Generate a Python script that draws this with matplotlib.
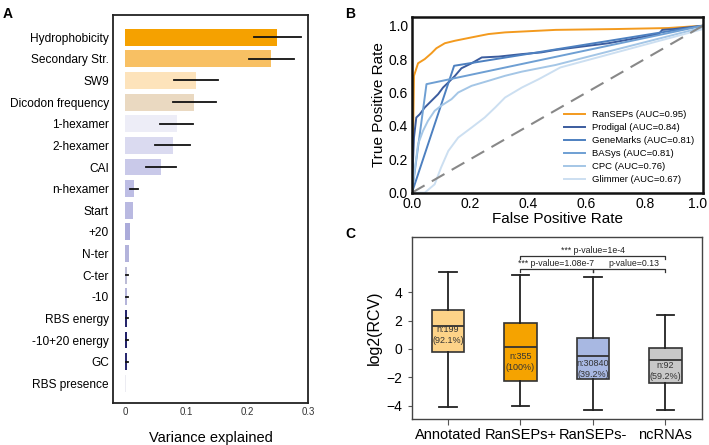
import matplotlib
matplotlib.use("Agg")
import matplotlib.pyplot as plt
import matplotlib.transforms as mtransforms
import numpy as np

plt.rcParams['font.family'] = ['Liberation Sans', 'DejaVu Sans']

# ---------------- Panel A data ----------------
features = ["Hydrophobicity", "Secondary Str.", "SW9", "Dicodon frequency",
            "1-hexamer", "2-hexamer", "CAI", "n-hexamer", "Start", "+20",
            "N-ter", "C-ter", "-10", "RBS energy", "-10+20 energy", "GC",
            "RBS presence"]
variance = [0.250, 0.240, 0.117, 0.114, 0.085, 0.078, 0.059, 0.015, 0.0125,
            0.0088, 0.006, 0.004, 0.0035, 0.003, 0.003, 0.003, 0.001]
variance_err = [0.038, 0.037, 0.036, 0.035, 0.027, 0.028, 0.025, 0.007, 0.0,
                0.0, 0.0, 0.0015, 0.0015, 0.002, 0.002, 0.002, 0.0]
bar_colors = ['#F5A100', '#F8C063', '#FDE3BB', '#EAD9C1', '#EDEDF7', '#DADAF0',
              '#C9C9E9', '#BDBDE4', '#B9B9E1', '#ABABDA', '#B3B3DB', '#BCBCD6',
              '#B5B5DA', '#25256B', '#23236A', '#2A2A70', '#ECECF2']
var_ticks = [0, 0.1, 0.2, 0.3]
var_ticklabels = ["0", "0.1", "0.2", "0.3"]

# ---------------- Panel B data ----------------
ransep_fpr = [0, 0.004, 0.007, 0.021, 0.044, 0.067, 0.084, 0.113, 0.148, 0.205,
              0.263, 0.32, 0.436, 0.494, 0.7, 0.88, 1.0]
ransep_tpr = [0, 0.33, 0.70, 0.775, 0.80, 0.835, 0.865, 0.895, 0.91, 0.93,
              0.95, 0.96, 0.97, 0.975, 0.98, 0.986, 1.0]
prodigal_fpr = [0, 0.004, 0.007, 0.015, 0.027, 0.044, 0.067, 0.09, 0.107, 0.125,
                0.148, 0.17, 0.205, 0.24, 0.298, 0.378, 0.444, 0.494, 0.675,
                0.848, 0.86, 0.9, 1.0]
prodigal_tpr = [0, 0.2, 0.33, 0.45, 0.47, 0.51, 0.55, 0.59, 0.63, 0.66,
                0.70, 0.745, 0.775, 0.81, 0.815, 0.83, 0.84, 0.855, 0.895,
                0.95, 0.975, 0.98, 1.0]
genemarks_fpr = [0, 0.145, 1.0]
genemarks_tpr = [0, 0.76, 1.0]
basys_fpr = [0, 0.05, 1.0]
basys_tpr = [0, 0.65, 1.0]
cpc_fpr = [0, 0.009, 0.021, 0.038, 0.055, 0.078, 0.10, 0.136, 0.159, 0.205,
           0.263, 0.32, 0.378, 0.494, 1.0]
cpc_tpr = [0, 0.13, 0.29, 0.37, 0.43, 0.49, 0.52, 0.56, 0.60, 0.64,
           0.67, 0.70, 0.725, 0.765, 0.99]
glimmer_fpr = [0, 0.044, 0.078, 0.10, 0.125, 0.159, 0.205, 0.25, 0.286, 0.32,
               0.378, 0.436, 0.51, 1.0]
glimmer_tpr = [0, 0.0, 0.05, 0.15, 0.25, 0.33, 0.39, 0.45, 0.51, 0.57,
               0.63, 0.68, 0.75, 0.98]
roc_labels = ["RanSEPs (AUC=0.95)", "Prodigal (AUC=0.84)", "GeneMarks (AUC=0.81)",
              "BASys (AUC=0.81)", "CPC (AUC=0.76)", "Glimmer (AUC=0.67)"]
roc_colors = ['#F39A1E', '#3B5C9E', '#4D80C0', '#6E9FD3', '#A4C6E6', '#CCDFF1']
rate_ticks = [0, 0.2, 0.4, 0.6, 0.8, 1.0]
rate_ticklabels = ["0.0", "0.2", "0.4", "0.6", "0.8", "1.0"]

# ---------------- Panel C data ----------------
groups = ["Annotated", "RanSEPs+", "RanSEPs-", "ncRNAs"]
whis_low = [-4.07, -4.02, -4.33, -4.31]
q1 = [-0.24, -2.24, -2.14, -2.42]
median = [1.65, 0.165, -0.52, -0.75]
q3 = [2.75, 1.84, 0.75, 0.05]
whis_high = [5.39, 5.22, 5.06, 2.38]
n_labels = ["n:199\n(92.1%)", "n:355\n(100%)", "n:30840\n(39.2%)", "n:92\n(59.2%)"]
box_colors = ['#FDD388', '#F5A300', '#A8B8E2', '#C8C8C8']

fig = plt.figure(figsize=(7.09, 4.45), dpi=100)

# ---------------- Panel A ----------------
axA = fig.add_axes([0.1594, 0.0944, 0.275, 0.872])
ypos = np.arange(len(features))
axA.barh(ypos, variance, height=0.78, color=bar_colors, zorder=1)
for y, v, e in zip(ypos, variance, variance_err):
    if e > 0:
        axA.plot([v - e, v + e], [y, y], color='#111111', lw=1.3, zorder=3)
axA.set_ylim(len(features) - 1 + 0.91, -1.03)
axA.set_xlim(-0.0195, 0.3)
axA.set_yticks(ypos)
axA.set_yticklabels(features, fontsize=8.6)
axA.set_xticks(var_ticks)
axA.set_xticklabels(var_ticklabels, fontsize=7, color='#333333')
axA.tick_params(length=0, pad=3)
axA.set_xlabel("Variance explained", fontsize=10.5, labelpad=10)
for s in axA.spines.values():
    s.set_linewidth(1.3)
    s.set_color('#222222')

# ---------------- Panel B ----------------
axB = fig.add_axes([0.581, 0.567, 0.4105, 0.394])
rocs = [(ransep_fpr, ransep_tpr), (prodigal_fpr, prodigal_tpr),
        (genemarks_fpr, genemarks_tpr), (basys_fpr, basys_tpr),
        (cpc_fpr, cpc_tpr), (glimmer_fpr, glimmer_tpr)]
for (fx, ty), lab, c in zip(rocs, roc_labels, roc_colors):
    axB.plot(fx, ty, color=c, lw=1.4, label=lab)
axB.plot([0, 1], [0, 1], color='#888888', lw=1.5, dashes=(7, 4))
axB.set_xlim(0, 1)
axB.set_ylim(0, 1.05)
axB.set_xticks(rate_ticks)
axB.set_yticks(rate_ticks)
axB.set_xticklabels(rate_ticklabels)
axB.set_yticklabels(rate_ticklabels)
axB.tick_params(length=0, labelsize=10, pad=3)
last = axB.get_xticklabels()[-1]
last.set_transform(last.get_transform() +
                   mtransforms.ScaledTranslation(-4 / 72, 0, fig.dpi_scale_trans))
axB.set_xlabel("False Positive Rate", fontsize=11, labelpad=1)
axB.set_ylabel("True Positive Rate", fontsize=11, labelpad=2)
for s in axB.spines.values():
    s.set_linewidth(1.8)
    s.set_color('#111111')
axB.legend(loc='lower right', frameon=False, fontsize=6.8, handlelength=2.2,
           labelspacing=0.42, borderaxespad=0.5)

# ---------------- Panel C ----------------
axC = fig.add_axes([0.5807, 0.0578, 0.409, 0.410])
stats = []
for i, g in enumerate(groups):
    stats.append(dict(label=g, med=median[i], q1=q1[i], q3=q3[i],
                      whislo=whis_low[i], whishi=whis_high[i], fliers=[]))
bp = axC.bxp(stats, positions=np.arange(len(groups)), widths=0.45,
             patch_artist=True, showfliers=False, capwidths=0.24,
             boxprops=dict(edgecolor='#333333', linewidth=1.2),
             whiskerprops=dict(color='#222222', linewidth=1.3),
             capprops=dict(color='#222222', linewidth=1.3),
             medianprops=dict(color='#333333', linewidth=1.3))
for patch, c in zip(bp['boxes'], box_colors):
    patch.set_facecolor(c)
n_y = [0.96, -0.9, -1.41, -1.55]
for i, t in enumerate(n_labels):
    axC.text(i, n_y[i], t, ha='center', va='center', fontsize=6.5,
             color='#333333', linespacing=1.25)
axC.set_xlim(-0.5, 3.5)
axC.set_ylim(-4.95, 7.9)
axC.set_yticks([-4, -2, 0, 2, 4])
axC.set_xticks(np.arange(len(groups)))
axC.set_xticklabels(groups, fontsize=10.5)
axC.tick_params(axis='y', labelsize=10, length=3, color='#555555', pad=4)
axC.tick_params(axis='x', length=4, color='#555555', pad=2.5)
axC.set_ylabel("log2(RCV)", fontsize=11.5, labelpad=3)
for s in axC.spines.values():
    s.set_linewidth(1.0)
    s.set_color('#444444')

# significance brackets
def bracket(x0, x1, y, h, text, tx, ty):
    axC.plot([x0, x0, x1, x1], [y - h, y, y, y - h], color='#333333', lw=0.9)
    axC.text(tx, ty, text, ha='center', va='bottom', fontsize=6.3, color='#222222')

bracket(1, 3, 6.52, 0.2, "*** p-value=1e-4", 2.0, 6.62)
bracket(1, 2, 5.62, 0.2, "*** p-value=1.08e-7", 1.49, 5.68)
bracket(2, 3, 5.62, 0.2, "p-value=0.13", 2.57, 5.68)

# panel letters
fig.text(0.004, 0.985, "A", fontsize=10, fontweight='bold', va='top')
fig.text(0.487, 0.985, "B", fontsize=10, fontweight='bold', va='top')
fig.text(0.487, 0.49, "C", fontsize=10, fontweight='bold', va='top')

fig.savefig("out.png", dpi=100)
